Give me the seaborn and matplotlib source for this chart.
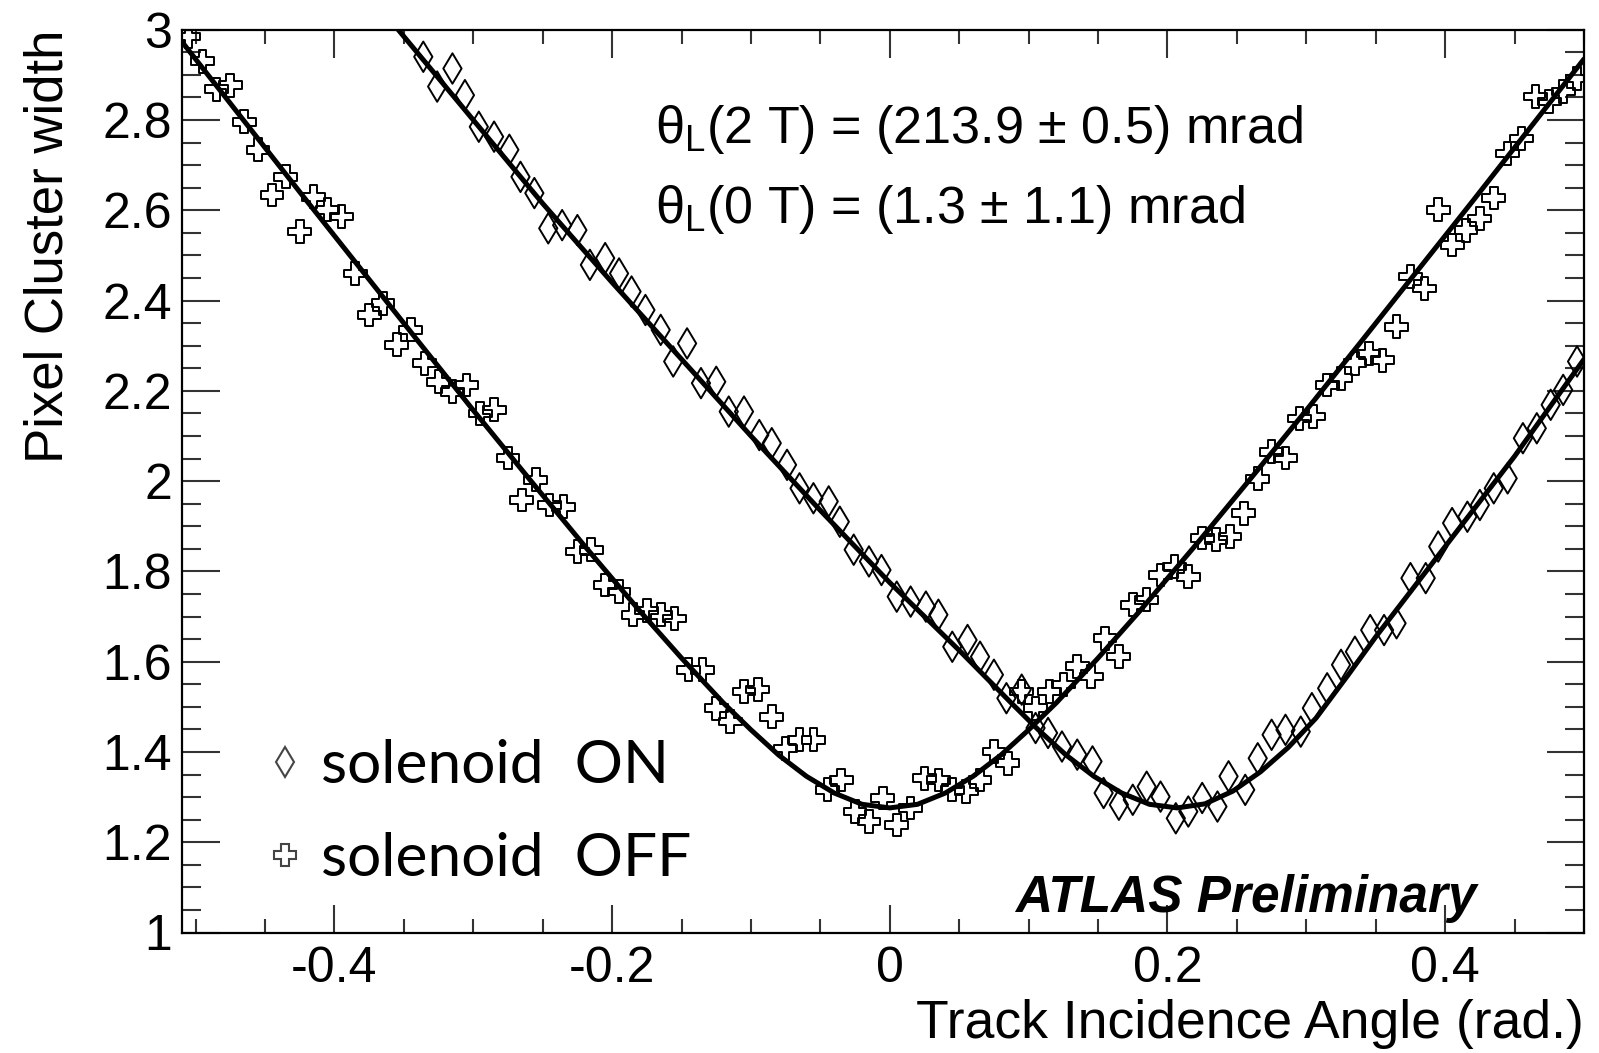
import matplotlib
matplotlib.use("Agg")
import matplotlib.pyplot as plt
import seaborn as sns
import pandas as pd
from matplotlib.lines import Line2D
from matplotlib.ticker import FixedLocator, MultipleLocator

# ---------------- data ----------------
off_x = [-0.505, -0.495, -0.485, -0.475, -0.465, -0.455, -0.445, -0.435, -0.425, -0.415,
         -0.405, -0.395, -0.385, -0.375, -0.365, -0.355, -0.345, -0.335, -0.325, -0.315,
         -0.305, -0.295, -0.285, -0.275, -0.265, -0.255, -0.245, -0.235, -0.225, -0.215,
         -0.205, -0.195, -0.185, -0.175, -0.165, -0.155, -0.145, -0.135, -0.125, -0.115,
         -0.105, -0.095, -0.085, -0.075, -0.065, -0.055, -0.045, -0.035, -0.025, -0.015,
         -0.005, 0.005, 0.015, 0.025, 0.035, 0.045, 0.055, 0.065, 0.075, 0.085,
         0.095, 0.105, 0.115, 0.125, 0.135, 0.145, 0.155, 0.165, 0.175, 0.185,
         0.195, 0.205, 0.215, 0.225, 0.235, 0.245, 0.255, 0.265, 0.275, 0.285,
         0.295, 0.305, 0.315, 0.325, 0.335, 0.345, 0.355, 0.365, 0.375, 0.385,
         0.395, 0.405, 0.415, 0.425, 0.435, 0.445, 0.455, 0.465, 0.475, 0.485, 0.495]
off_y = [2.985, 2.930, 2.868, 2.877, 2.796, 2.734, 2.634, 2.674, 2.553, 2.630,
         2.601, 2.586, 2.460, 2.368, 2.394, 2.302, 2.335, 2.261, 2.220, 2.198,
         2.213, 2.150, 2.158, 2.051, 1.958, 2.003, 1.947, 1.943, 1.844, 1.848,
         1.770, 1.755, 1.704, 1.713, 1.704, 1.696, 1.582, 1.582, 1.497, 1.467,
         1.534, 1.538, 1.478, 1.408, 1.427, 1.427, 1.316, 1.338, 1.268, 1.246,
         1.298, 1.238, 1.276, 1.342, 1.338, 1.316, 1.312, 1.338, 1.401, 1.375,
         1.534, 1.497, 1.534, 1.549, 1.590, 1.567, 1.652, 1.611, 1.726, 1.737,
         1.792, 1.811, 1.788, 1.874, 1.870, 1.877, 1.929, 2.005, 2.065, 2.051,
         2.139, 2.143, 2.213, 2.228, 2.261, 2.283, 2.268, 2.342, 2.453, 2.427,
         2.601, 2.523, 2.556, 2.582, 2.627, 2.726, 2.759, 2.852, 2.841, 2.863, 2.892]

on_x = [-0.336, -0.326, -0.315, -0.306, -0.296, -0.285, -0.274, -0.266, -0.256, -0.246,
        -0.236, -0.225, -0.216, -0.205, -0.195, -0.186, -0.176, -0.165, -0.156, -0.146,
        -0.136, -0.125, -0.116, -0.105, -0.094, -0.085, -0.074, -0.065, -0.055, -0.044,
        -0.036, -0.026, -0.015, -0.006, 0.005, 0.015, 0.026, 0.035, 0.045, 0.056,
        0.065, 0.075, 0.084, 0.095, 0.105, 0.114, 0.124, 0.135, 0.146, 0.154,
        0.165, 0.175, 0.185, 0.195, 0.206, 0.215, 0.225, 0.236, 0.244, 0.256,
        0.265, 0.275, 0.285, 0.296, 0.304, 0.315, 0.325, 0.335, 0.346, 0.356,
        0.365, 0.375, 0.386, 0.395, 0.405, 0.416, 0.425, 0.435, 0.445, 0.456,
        0.466, 0.476, 0.485, 0.495]
on_y = [2.940, 2.874, 2.914, 2.855, 2.785, 2.763, 2.734, 2.674, 2.638, 2.560,
        2.567, 2.556, 2.479, 2.494, 2.460, 2.420, 2.379, 2.335, 2.265, 2.305,
        2.217, 2.220, 2.154, 2.154, 2.102, 2.084, 2.036, 1.984, 1.962, 1.955,
        1.910, 1.848, 1.822, 1.803, 1.744, 1.733, 1.722, 1.704, 1.633, 1.648,
        1.611, 1.571, 1.519, 1.538, 1.453, 1.442, 1.412, 1.394, 1.379, 1.309,
        1.283, 1.294, 1.323, 1.301, 1.253, 1.268, 1.298, 1.279, 1.346, 1.316,
        1.386, 1.438, 1.449, 1.445, 1.497, 1.541, 1.593, 1.622, 1.670, 1.670,
        1.685, 1.785, 1.785, 1.855, 1.907, 1.921, 1.947, 1.984, 2.006, 2.095,
        2.117, 2.169, 2.202, 2.265]

# fit curves
off_fit_x = [-0.51, -0.46, -0.42, -0.38, -0.34, -0.30, -0.26, -0.22, -0.18, -0.15,
             -0.12, -0.10, -0.08, -0.06, -0.04, -0.02, 0.00, 0.02, 0.04, 0.06,
             0.08, 0.10, 0.12, 0.15, 0.18, 0.22, 0.26, 0.30, 0.34, 0.38,
             0.42, 0.46, 0.50]
off_fit_y = [2.974, 2.778, 2.621, 2.466, 2.311, 2.157, 2.006, 1.857, 1.712, 1.608,
             1.509, 1.449, 1.393, 1.346, 1.309, 1.284, 1.276, 1.284, 1.309, 1.346,
             1.393, 1.449, 1.509, 1.608, 1.712, 1.857, 2.006, 2.157, 2.311, 2.466,
             2.621, 2.778, 2.935]
on_fit_x = [-0.36, -0.30, -0.25, -0.20, -0.15, -0.10, -0.05, 0.00, 0.05, 0.087,
            0.107, 0.127, 0.147, 0.167, 0.187, 0.207, 0.227, 0.247, 0.267, 0.287,
            0.307, 0.33, 0.35, 0.375, 0.40, 0.45, 0.50]
on_fit_y = [3.022, 2.800, 2.615, 2.440, 2.270, 2.100, 1.935, 1.775, 1.625, 1.510,
            1.449, 1.393, 1.346, 1.309, 1.284, 1.276, 1.285, 1.313, 1.356, 1.410,
            1.475, 1.570, 1.655, 1.755, 1.855, 2.055, 2.270]

x_ticks = [-0.4, -0.2, 0.0, 0.2, 0.4]
x_tick_labels = ["-0.4", "-0.2", "0", "0.2", "0.4"]
y_ticks = [1.0, 1.2, 1.4, 1.6, 1.8, 2.0, 2.2, 2.4, 2.6, 2.8, 3.0]
y_tick_labels = ["1", "1.2", "1.4", "1.6", "1.8", "2", "2.2", "2.4", "2.6", "2.8", "3"]
legend_labels = ["solenoid  ON", "solenoid  OFF"]

# ---------------- styling ----------------
sns.set_theme(style="ticks")
plt.rcParams["font.family"] = ["Liberation Sans", "DejaVu Sans"]
plt.rcParams["mathtext.fontset"] = "custom"
plt.rcParams["mathtext.rm"] = "Liberation Sans"
for k in ["text.color", "axes.labelcolor", "xtick.color", "ytick.color", "axes.edgecolor"]:
    plt.rcParams[k] = "black"

W, H = 1599, 1053
fig = plt.figure(figsize=(W / 100, H / 100), dpi=100)
fig.patch.set_facecolor("white")
L, R, T, B = 181.7, 1584.0, 29.7, 932.5
ax = fig.add_axes([L / W, 1 - B / H, (R - L) / W, (B - T) / H])
ax.set_facecolor("white")

df_off = pd.DataFrame({"x": off_x, "y": off_y})
df_on = pd.DataFrame({"x": on_x, "y": on_y})
df_off_fit = pd.DataFrame({"x": off_fit_x, "y": off_fit_y})
df_on_fit = pd.DataFrame({"x": on_fit_x, "y": on_fit_y})

sns.scatterplot(data=df_off, x="x", y="y", marker="P", s=270, ax=ax, zorder=3, legend=False)
coll_off = ax.collections[-1]
coll_off.set_facecolor("none"); coll_off.set_edgecolor("black"); coll_off.set_linewidth(1.4)

sns.scatterplot(data=df_on, x="x", y="y", marker="d", s=240, ax=ax, zorder=3, legend=False)
coll_on = ax.collections[-1]
coll_on.set_facecolor("none"); coll_on.set_edgecolor("black"); coll_on.set_linewidth(1.4)

sns.lineplot(data=df_off_fit, x="x", y="y", sort=False, estimator=None, color="black",
             lw=3.6, ax=ax, zorder=4)
sns.lineplot(data=df_on_fit, x="x", y="y", sort=False, estimator=None, color="black",
             lw=3.6, ax=ax, zorder=4)

ax.set_xlim(-0.51, 0.5)
ax.set_ylim(1, 3)
ax.xaxis.set_major_locator(FixedLocator(x_ticks))
ax.set_xticklabels(x_tick_labels)
ax.xaxis.set_minor_locator(MultipleLocator(0.05))
ax.yaxis.set_major_locator(FixedLocator(y_ticks))
ax.set_yticklabels(y_tick_labels)
ax.yaxis.set_minor_locator(MultipleLocator(0.05))

for s in ax.spines.values():
    s.set_linewidth(1.6); s.set_color("black"); s.set_visible(True)
ax.tick_params(which="both", direction="in", top=True, right=True, width=1.5, color="#333333",
               labelsize=36, labelcolor="black")
ax.tick_params(axis="x", which="major", length=20, pad=10)
ax.tick_params(axis="x", which="minor", length=10)
ax.tick_params(axis="y", which="major", length=27, pad=7)
ax.tick_params(axis="y", which="minor", length=14)

ax.set_xlabel("Track Incidence Angle (rad.)", fontsize=38.5, loc="right", color="black")
ax.xaxis.set_label_coords(1.0, -0.074)
ax.set_ylabel("Pixel Cluster width", fontsize=38, loc="top", color="black")
ax.yaxis.set_label_coords(-0.077, 1.0)

ax.text(0.3375, 0.8745, "θ$_{\\mathregular{L}}$(2 T) = (213.9 ± 0.5) mrad", transform=ax.transAxes,
        fontsize=37.5, va="baseline", ha="left", color="black")
ax.text(0.3375, 0.786, "θ$_{\\mathregular{L}}$(0 T) = (1.3 ± 1.1) mrad", transform=ax.transAxes,
        fontsize=37.5, va="baseline", ha="left", color="black")
ax.text(0.9237, 0.0227, "ATLAS Preliminary", transform=ax.transAxes, fontsize=37,
        fontweight="bold", fontstyle="italic", va="baseline", ha="right", color="black")

handles = [Line2D([], [], ls="none", marker="d", ms=15, mfc="none", mec="#444444", mew=1.5),
           Line2D([], [], ls="none", marker="P", ms=16, mfc="none", mec="#444444", mew=1.5)]
leg = ax.legend(handles, legend_labels, loc="upper left", bbox_to_anchor=(0.0523, 0.214),
                frameon=False, handlelength=1.0, handletextpad=0.1, borderpad=0,
                borderaxespad=0, labelspacing=0.64,
                prop={"family": ["Lato", "DejaVu Sans"], "size": 43.5})
for t in leg.get_texts():
    t.set_color("black")

fig.savefig("out.png", dpi=100, facecolor="white")
